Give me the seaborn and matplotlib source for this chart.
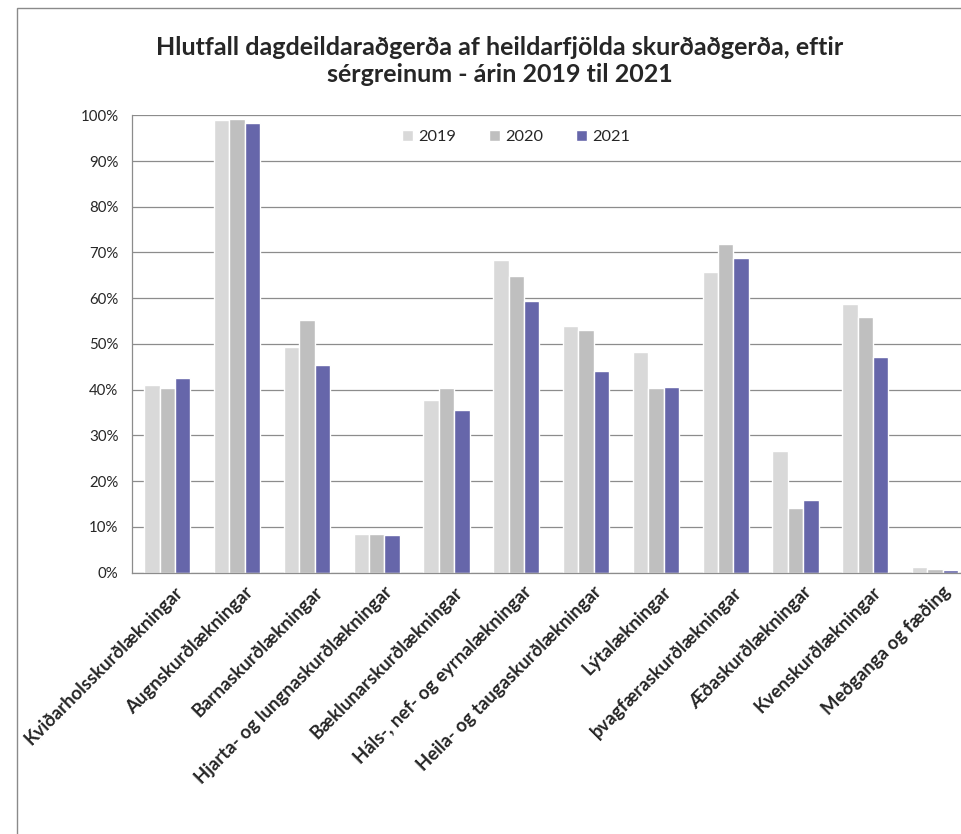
import pandas as pd
import seaborn as sns
import matplotlib.pyplot as plt
import matplotlib.transforms as mtransforms
from matplotlib.patches import Rectangle
from matplotlib.ticker import FixedLocator

sns.set_style("white")
plt.rcParams['font.family'] = ['Lato', 'DejaVu Sans']

# values (percent)
categories = ["Kviðarholsskurðlækningar", "Augnskurðlækningar", "Barnaskurðlækningar",
              "Hjarta- og lungnaskurðlækningar", "Bæklunarskurðlækningar",
              "Háls-, nef- og eyrnalækningar", "Heila- og taugaskurðlækningar",
              "Lýtalækningar", "þvagfæraskurðlækningar", "Æðaskurðlækningar",
              "Kvenskurðlækningar", "Meðganga og fæðing"]
years = ["2019", "2020", "2021"]
v2019 = [41.0, 99.0, 49.4, 8.5, 37.7, 68.4, 53.9, 48.3, 65.7, 26.6, 58.7, 1.2]
v2020 = [40.3, 99.2, 55.2, 8.5, 40.3, 64.8, 53.1, 40.3, 71.9, 14.1, 56.0, 0.9]
v2021 = [42.5, 98.3, 45.3, 8.2, 35.5, 59.3, 44.0, 40.6, 68.8, 15.9, 47.2, 0.7]
colors = ["#D9D9D9", "#BFBFBF", "#6666AA"]

df = pd.DataFrame({
    "sergrein": categories * 3,
    "ar": [y for y in years for _ in categories],
    "hlutfall": v2019 + v2020 + v2021,
})

fig = plt.figure(figsize=(9.61, 8.34), dpi=100)
ax = fig.add_axes([0.1377, 0.3133, 0.8717, 0.5485])

# outer chart frame (cropped on the right and bottom)
fig.patches.append(Rectangle((17 / 961, -0.2), 1.2, 1.2 - 8 / 834,
                             transform=fig.transFigure, fill=False,
                             edgecolor="#8a8a8a", linewidth=1.0))

sns.barplot(data=df, x="sergrein", y="hlutfall", hue="ar", palette=colors,
            width=0.66, saturation=1, ax=ax, legend=True)

ax.set_ylim(0, 100)
ax.set_xlim(-0.5, len(categories) - 0.5)
ax.set_yticks(range(0, 101, 10))
ax.set_yticklabels([f"{t}%" for t in range(0, 101, 10)], fontsize=10.8)
ax.yaxis.grid(True, color="#8c8c8c", linewidth=0.9)
ax.set_axisbelow(True)
ax.tick_params(axis="y", length=0, pad=10)

ax.set_xticks(range(len(categories)))
ax.set_xticklabels(categories, rotation=45, ha="right", va="center",
                   rotation_mode="anchor", fontsize=13.3, fontweight="bold")
ax.tick_params(axis="x", which="major", length=0, pad=12)
ax.xaxis.set_minor_locator(FixedLocator([i - 0.5 for i in range(len(categories) + 1)]))
ax.tick_params(axis="x", which="minor", length=5, color="#8c8c8c", width=0.9)
offset = mtransforms.ScaledTranslation(13 / 100, 0, fig.dpi_scale_trans)
for lab in ax.get_xticklabels():
    lab.set_transform(lab.get_transform() + offset)

ax.set_xlabel("")
ax.set_ylabel("")
for side in ["top", "right"]:
    ax.spines[side].set_visible(False)
for side in ["left", "bottom"]:
    ax.spines[side].set_color("#8c8c8c")
    ax.spines[side].set_linewidth(0.9)

handles, labels = ax.get_legend_handles_labels()
ax.legend(handles, labels, loc="center", bbox_to_anchor=(0.458, 0.953), ncol=3,
          frameon=False, fontsize=11.8, handlelength=0.7, handleheight=0.7,
          handletextpad=0.3, columnspacing=2.0)

fig.text(500 / 961, 1 - 61 / 834,
         "Hlutfall dagdeildaraðgerða af heildarfjölda skurðaðgerða, eftir\nsérgreinum - árin 2019 til 2021",
         ha="center", va="center", fontsize=18, fontweight="bold", linespacing=1.2)

fig.savefig("out.png", dpi=100)
